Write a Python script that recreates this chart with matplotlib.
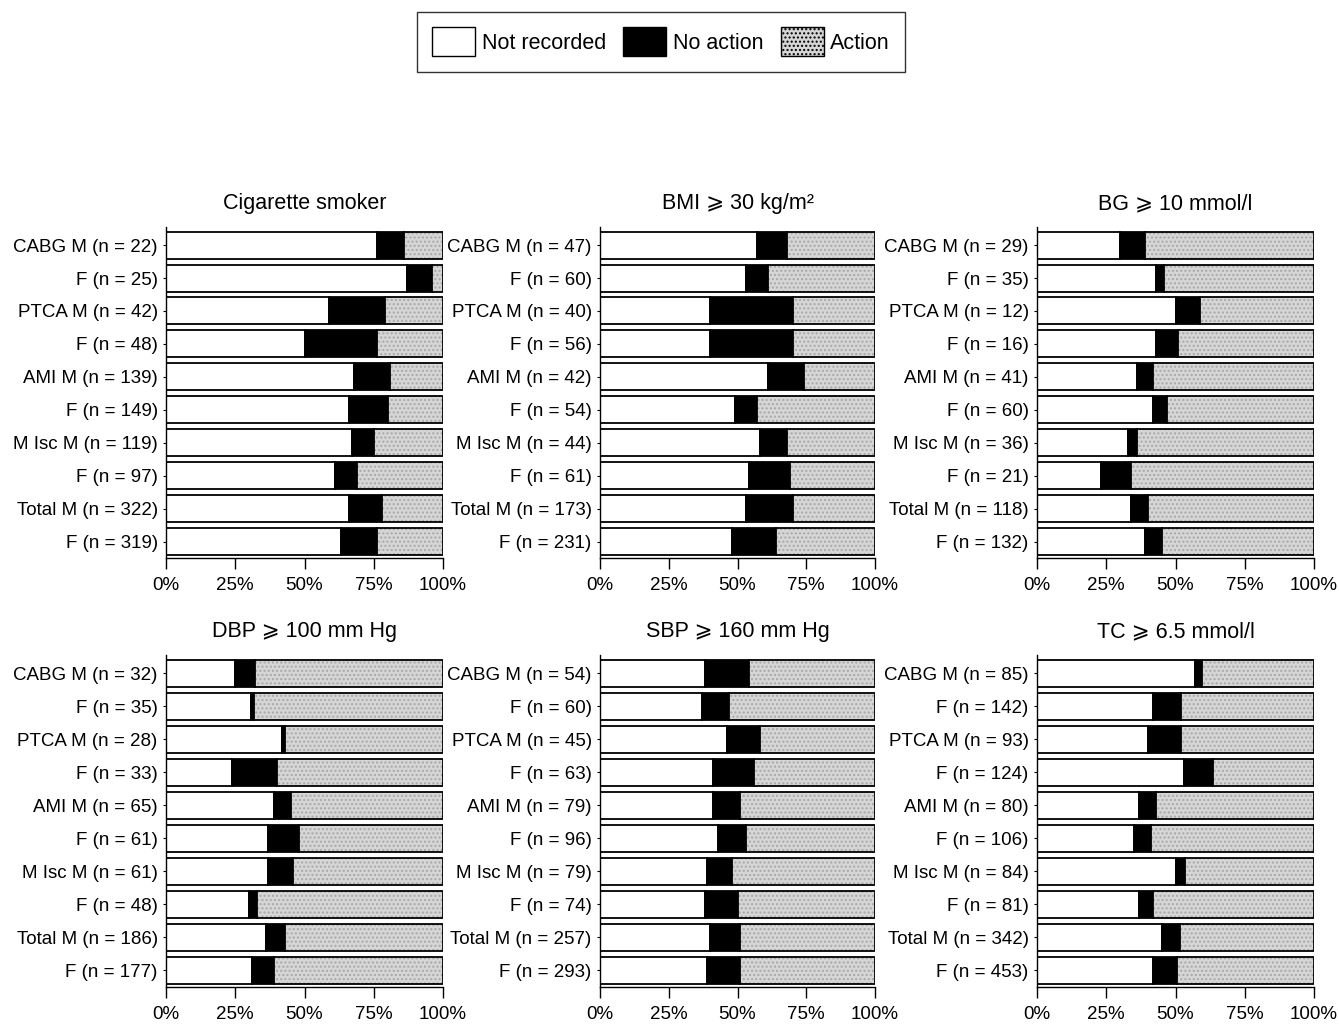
import matplotlib
matplotlib.use("Agg")
import matplotlib.pyplot as plt
from matplotlib.patches import Patch

plt.rcParams['font.family'] = ['Liberation Sans', 'DejaVu Sans']

groups = ["CABG", "PTCA", "AMI", "M Isc", "Total"]

titles = ["Cigarette smoker", "BMI \u2a7e 30 kg/m\u00b2", "BG \u2a7e 10 mmol/l",
          "DBP \u2a7e 100 mm Hg", "SBP \u2a7e 160 mm Hg", "TC \u2a7e 6.5 mmol/l"]

# n per row: M, F for each group
smoker_n = [22, 25, 42, 48, 139, 149, 119, 97, 322, 319]
bmi_n = [47, 60, 40, 56, 42, 54, 44, 61, 173, 231]
bg_n = [29, 35, 12, 16, 41, 60, 36, 21, 118, 132]
dbp_n = [32, 35, 28, 33, 65, 61, 61, 48, 186, 177]
sbp_n = [54, 60, 45, 63, 79, 96, 79, 74, 257, 293]
tc_n = [85, 142, 93, 124, 80, 106, 84, 81, 342, 453]

# percentages: not recorded / no action / action
smoker_nr = [76, 87, 59, 50, 68, 66, 67, 61, 66, 63]
smoker_na = [10, 9, 20, 26, 13, 14, 8, 8, 12, 13]
smoker_ac = [14, 4, 21, 24, 19, 20, 25, 31, 22, 24]

bmi_nr = [57, 53, 40, 40, 61, 49, 58, 54, 53, 48]
bmi_na = [11, 8, 30, 30, 13, 8, 10, 15, 17, 16]
bmi_ac = [32, 39, 30, 30, 26, 43, 32, 31, 30, 36]

bg_nr = [30, 43, 50, 43, 36, 42, 33, 23, 34, 39]
bg_na = [9, 3, 9, 8, 6, 5, 3, 11, 6, 6]
bg_ac = [61, 54, 41, 49, 58, 53, 64, 66, 60, 55]

dbp_nr = [25, 30.7, 41.7, 24, 39, 37, 37, 30, 36, 31]
dbp_na = [7, 0.9, 1.1, 16, 6, 11, 9, 3, 7, 8]
dbp_ac = [68, 68.4, 57.2, 60, 55, 52, 54, 67, 57, 61]

sbp_nr = [38, 37, 46, 41, 41, 43, 39, 38, 40, 39]
sbp_na = [16, 10, 12, 15, 10, 10, 9, 12, 11, 12]
sbp_ac = [46, 53, 42, 44, 49, 47, 52, 50, 49, 49]

tc_nr = [57, 42, 40, 53, 37, 35, 50, 37, 45, 42]
tc_na = [2.5, 10, 12, 10.5, 6, 6, 3.5, 5, 6.5, 8.5]
tc_ac = [40.5, 48, 48, 36.5, 57, 59, 46.5, 58, 48.5, 49.5]

panels = [
    (smoker_n, smoker_nr, smoker_na, smoker_ac),
    (bmi_n, bmi_nr, bmi_na, bmi_ac),
    (bg_n, bg_nr, bg_na, bg_ac),
    (dbp_n, dbp_nr, dbp_na, dbp_ac),
    (sbp_n, sbp_nr, sbp_na, sbp_ac),
    (tc_n, tc_nr, tc_na, tc_ac),
]

grey = '#d6d6d6'
W, H = 1339, 1025
fig = plt.figure(figsize=(W / 100, H / 100), dpi=100)

# axes boxes in pixels: left, right, top, bottom
lefts = [(166, 443), (600, 875), (1037, 1314)]
rows = [(227, 558), (655, 987)]

for i, (ns, nr, na, ac) in enumerate(panels):
    x0, x1 = lefts[i % 3]
    t, b = rows[i // 3]
    ax = fig.add_axes([x0 / W, 1 - b / H, (x1 - x0) / W, (b - t) / H])

    labels = []
    for k, n in enumerate(ns):
        if k % 2 == 0:
            labels.append(f"{groups[k // 2]} M (n = {n})")
        else:
            labels.append(f"F (n = {n})")

    y = list(range(len(ns)))
    left2 = [a + c for a, c in zip(nr, na)]
    ax.barh(y, nr, height=0.82, color='white', edgecolor='black', linewidth=1.3)
    ax.barh(y, na, left=nr, height=0.82, color='black', edgecolor='black', linewidth=1.3)
    # stippled grey for action
    ax.barh(y, ac, left=left2, height=0.82, color=grey, edgecolor='#a8a8a8',
            hatch='....', linewidth=0)
    ax.barh(y, ac, left=left2, height=0.82, fill=False, edgecolor='black', linewidth=1.3)

    ax.set_xlim(0, 100)
    ax.set_ylim(9.5, -0.55)
    ax.set_yticks(y)
    ax.set_yticklabels(labels, fontsize=13.5)
    ax.set_xticks([0, 25, 50, 75, 100])
    ax.set_xticklabels(['0%', '25%', '50%', '75%', '100%'], fontsize=13.5)
    ax.tick_params(axis='y', length=2, pad=4)
    ax.tick_params(axis='x', length=8, width=1.0, pad=6)
    ax.spines['top'].set_visible(False)
    ax.spines['right'].set_visible(False)
    ax.spines['left'].set_linewidth(1.0)
    ax.spines['bottom'].set_linewidth(1.0)
    ax.set_title(titles[i], fontsize=15.5, pad=13)

handles = [
    Patch(facecolor='white', edgecolor='black', label='Not recorded'),
    Patch(facecolor='black', edgecolor='black', label='No action'),
    Patch(facecolor=grey, edgecolor='black', hatch='....', label='Action'),
]
leg = fig.legend(handles=handles, loc='upper center', bbox_to_anchor=(0.4937, 0.988),
                 borderaxespad=0, ncol=3, fontsize=15.5, frameon=True, fancybox=False,
                 handlelength=2.0, handleheight=1.7, handletextpad=0.3,
                 columnspacing=0.8, borderpad=0.7, edgecolor='black')
leg.get_frame().set_linewidth(1.0)

fig.savefig('out.png', dpi=100)
